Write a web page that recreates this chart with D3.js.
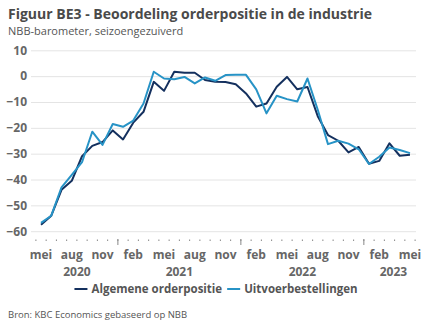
<!DOCTYPE html>
<html>
<head>
<meta charset="utf-8">
<script src="https://cdn.jsdelivr.net/npm/d3@7"></script>
<style>
  body { margin: 0; background: #fff; }
  svg { font-family: "Open Sans", sans-serif; }
</style>
</head>
<body>
<svg id="chart" width="432" height="334"></svg>
<script>
// monthly observations, mei 2020 .. mei 2023
const months = d3.range(37).map(i => new Date(2020, 4 + i, 1));
const algemeen = [
  -57.5, -54, -44, -40.5, -31, -27, -25.5, -21, -24.5, -18, -13.8, -2.2, -5.7,
  1.7, 1.3, 1.3, -1.5, -2.2, -2.3, -3.1, -6.7, -11.8, -10.6, -4.1, -0.3, -5.1,
  -4.2, -15.5, -22.8, -25, -29.5, -27.4, -33.9, -32.8, -26, -30.8, -30.4
];
const uitvoer = [
  -56.8, -54, -43, -38.2, -33.3, -21.5, -26.6, -18.5, -19.6, -17.2, -10.6, 1.7, -0.9,
  -1.2, -0.3, -2.8, -0.5, -1.8, 0.4, 0.5, 0.5, -5.1, -14.4, -7.6, -8.9, -9.8,
  -0.9, -13, -26.3, -25, -26.1, -28.3, -34, -31.2, -27.6, -28.6, -29.8
];
const yTicks = [10, 0, -10, -20, -30, -40, -50, -60];
const monthNames = ["jan", "feb", "mrt", "apr", "mei", "jun", "jul", "aug", "sep", "okt", "nov", "dec"];
const seriesNames = ["Algemene orderpositie", "Uitvoerbestellingen"];
const colors = ["#14305e", "#2793c6"];

const svg = d3.select("#chart");
const textColor = "#555";

const x = d3.scaleBand().domain(months).range([35.9, 415.1]).paddingInner(0);
const cx = d => x(d) + x.bandwidth() / 2;
const y = d3.scaleLinear().domain([-60, 10]).range([231.2, 50.3]);

// title
svg.append("text").attr("x", 8).attr("y", 19)
  .attr("font-size", 14).attr("font-weight", 700).attr("fill", "#4a4a4a")
  .text("Figuur BE3 - Beoordeling orderpositie in de industrie");
svg.append("text").attr("x", 8).attr("y", 35)
  .attr("font-size", 11).attr("fill", textColor)
  .text("NBB-barometer, seizoengezuiverd");

// y grid + labels
const yAxis = svg.append("g").attr("transform", "translate(31,0)")
  .call(d3.axisLeft(y).tickValues(yTicks).tickSize(-385).tickPadding(4));
yAxis.select(".domain").remove();
yAxis.selectAll(".tick line").attr("stroke", "#e4e4e4").attr("stroke-width", 1);
yAxis.selectAll(".tick text")
  .attr("font-family", "Open Sans, sans-serif")
  .attr("font-size", 12).attr("font-weight", 700).attr("fill", "#666");

// x axis: month dots, year ticks, labels
const xg = svg.append("g");
const bounds = months.map(d => x(d)).concat([x(months[months.length - 1]) + x.bandwidth()]);
xg.selectAll("rect.mt").data(bounds).join("rect")
  .attr("x", d => d - 0.5).attr("y", 239.5).attr("width", 1).attr("height", 1.5)
  .attr("fill", "#888");
const yearStarts = months.filter(d => d.getMonth() === 0);
xg.selectAll("line.yt").data(yearStarts).join("line")
  .attr("x1", d => x(d)).attr("x2", d => x(d))
  .attr("y1", 239).attr("y2", 245)
  .attr("stroke", "#888").attr("stroke-width", 1);

const labelled = months.filter((d, i) => i % 3 === 0);
xg.selectAll("text.ml").data(labelled).join("text")
  .attr("x", cx).attr("y", 258.5)
  .attr("text-anchor", "middle")
  .attr("font-size", 12).attr("font-weight", 700).attr("fill", "#666")
  .text(d => monthNames[d.getMonth()]);

const years = d3.groups(months, d => d.getFullYear());
xg.selectAll("text.yl").data(years).join("text")
  .attr("x", ([yr, ms]) => {
    const a = x(ms[0]), b = x(ms[ms.length - 1]) + x.bandwidth();
    return yr === 2023 ? (a + b) / 2 + 4 : (a + b) / 2;
  })
  .attr("y", 276)
  .attr("text-anchor", "middle")
  .attr("font-size", 12).attr("font-weight", 700).attr("fill", "#666")
  .text(d => d[0]);

// lines
const line = d3.line().x((d, i) => cx(months[i])).y(d => y(d));
[algemeen, uitvoer].forEach((s, k) => {
  svg.append("path").datum(s)
    .attr("fill", "none").attr("stroke", colors[k])
    .attr("stroke-width", 2).attr("stroke-linejoin", "round")
    .attr("d", line);
});

// legend, laid out left to right and centred
const legend = svg.append("g");
let lx = 0;
seriesNames.forEach((n, k) => {
  const item = legend.append("g").attr("transform", `translate(${lx},0)`);
  item.append("line").attr("x1", 0).attr("x2", 13)
    .attr("y1", -4).attr("y2", -4)
    .attr("stroke", colors[k]).attr("stroke-width", 2);
  const t = item.append("text").attr("x", 17).attr("y", 0)
    .attr("font-size", 11.5).attr("font-weight", 700).attr("fill", textColor)
    .text(n);
  lx += 17 + t.node().getComputedTextLength() + 5;
});
legend.attr("transform", `translate(${216 - (lx - 5) / 2},293)`);

// source
svg.append("text").attr("x", 8).attr("y", 318)
  .attr("font-size", 9.5).attr("fill", textColor)
  .text("Bron: KBC Economics gebaseerd op NBB");
</script>
</body>
</html>
